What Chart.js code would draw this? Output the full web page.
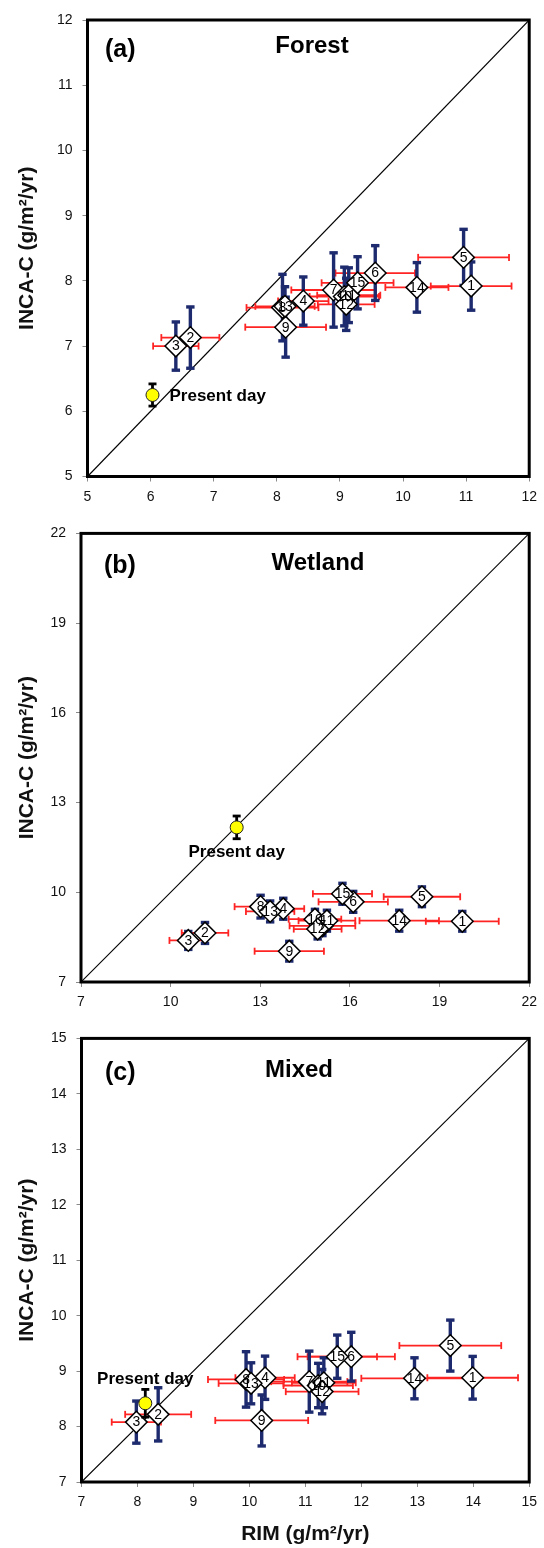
<!DOCTYPE html>
<html><head><meta charset="utf-8">
<script src="https://cdn.jsdelivr.net/npm/chart.js@4.4.1/dist/chart.umd.min.js"></script>
<style>
html,body{margin:0;padding:0;background:#fff;}
#wrap{position:relative;width:544px;height:1548px;background:#fff;overflow:hidden}
canvas{position:absolute;left:0}
</style></head><body>
<div id="wrap">
<canvas id="cA" width="544" height="515" style="top:0px;width:544px;height:515px"></canvas>
<canvas id="cB" width="544" height="505" style="top:515px;width:544px;height:505px"></canvas>
<canvas id="cC" width="544" height="528" style="top:1020px;width:544px;height:528px"></canvas>
</div>
<script>
const pointIds = ['1','2','3','4','5','6','7','8','9','10','11','12','13','14','15'];

// (a) Forest
const forestRIM      = [11.08, 6.63, 6.40, 8.42, 10.96, 9.56, 8.90, 8.09, 8.14, 9.07, 9.14, 9.10, 8.13, 10.22, 9.28];
const forestRIMErr   = [0.64, 0.46, 0.36, 0.40, 0.72, 0.63, 0.67, 0.57, 0.64, 0.55, 0.50, 0.45, 0.47, 0.50, 0.57];
const forestINCA     = [7.92, 7.13, 7.00, 7.69, 8.36, 8.12, 7.86, 7.59, 7.29, 7.76, 7.78, 7.64, 7.61, 7.90, 7.97];
const forestINCAErr  = [0.37, 0.47, 0.37, 0.37, 0.43, 0.42, 0.57, 0.51, 0.46, 0.45, 0.42, 0.40, 0.30, 0.38, 0.40];

// (b) Wetland
const wetlandRIM     = [19.76, 11.15, 10.59, 13.77, 18.41, 16.11, 15.08, 13.01, 13.97, 14.83, 15.23, 14.92, 13.33, 17.65, 15.75];
const wetlandRIMErr  = [1.22, 0.78, 0.63, 0.70, 1.28, 1.16, 1.10, 0.87, 1.16, 0.88, 0.95, 0.80, 0.81, 1.33, 0.99];
const wetlandINCA    = [9.03, 8.64, 8.39, 9.45, 9.85, 9.68, 8.88, 9.52, 8.03, 9.10, 9.05, 8.77, 9.36, 9.05, 9.95];
const wetlandINCAErr = [0.33, 0.35, 0.30, 0.35, 0.33, 0.35, 0.33, 0.38, 0.33, 0.33, 0.35, 0.33, 0.35, 0.35, 0.35];

// (c) Mixed
const mixedRIM     = [13.99, 8.37, 7.98, 10.28, 13.59, 11.82, 11.07, 9.94, 10.22, 11.23, 11.33, 11.30, 10.03, 12.95, 11.57];
const mixedRIMErr  = [0.81, 0.59, 0.44, 0.53, 0.91, 0.78, 0.68, 0.68, 0.83, 0.62, 0.57, 0.65, 0.58, 0.95, 0.71];
const mixedINCA    = [8.88, 8.22, 8.08, 8.88, 9.46, 9.26, 8.81, 8.85, 8.11, 8.74, 8.79, 8.63, 8.78, 8.87, 9.26];
const mixedINCAErr = [0.385, 0.48, 0.38, 0.39, 0.46, 0.44, 0.55, 0.50, 0.46, 0.40, 0.45, 0.40, 0.37, 0.37, 0.39];

// Present day (Forest, Wetland, Mixed)
const presentRIM     = [6.03, 12.21, 8.14];
const presentINCA    = [6.25, 12.17, 8.42];
const presentINCAErr = [0.17, 0.38, 0.25];
const presentLabel   = 'Present day';

// Axes (Forest, Wetland, Mixed)
const axisMin  = [5, 7, 7];
const axisMax  = [12, 22, 15];
const axisStep = [1, 3, 1];
const panelLetters = ['(a)', '(b)', '(c)'];
const panelTitles  = ['Forest', 'Wetland', 'Mixed'];
const yAxisTitle = 'INCA-C (g/m\u00B2/yr)';
const xAxisTitle = 'RIM (g/m\u00B2/yr)';

const FONT = "'Liberation Sans', Arial, Helvetica, sans-serif";
const RED = '#ff2424';
const NAVY = '#1d2a6e';
Chart.defaults.font.family = FONT;
Chart.defaults.color = '#111';

const layoutSpec = [
  {canvas:'cA', left:87.5, padTop:20, xh:38.5, letterX:105, letterDy:37, titleX:312, titleDy:33, lab:'right', showX:false},
  {canvas:'cB', left:81,   padTop:13, xh:38,   letterX:104, letterDy:40, titleX:318, titleDy:37, lab:'below', showX:false},
  {canvas:'cC', left:81.5, padTop:13, xh:66,   letterX:105, letterDy:42, titleX:299, titleDy:39, lab:'above', showX:true}
];

const panels = [
  {rim:forestRIM, rimErr:forestRIMErr, inca:forestINCA, incaErr:forestINCAErr},
  {rim:wetlandRIM, rimErr:wetlandRIMErr, inca:wetlandINCA, incaErr:wetlandINCAErr},
  {rim:mixedRIM, rimErr:mixedRIMErr, inca:mixedINCA, incaErr:mixedINCAErr}
];

function seg(ctx, x1, y1, x2, y2) { ctx.beginPath(); ctx.moveTo(x1, y1); ctx.lineTo(x2, y2); ctx.stroke(); }

function makePlugin(k) {
  const P = panels[k], L = layoutSpec[k];
  return {
    id: 'panel' + k,
    beforeDatasetDraw(chart, args) {
      const ctx = chart.ctx, xs = chart.scales.x, ys = chart.scales.y;
      if (args.index === 1) {
        ctx.save();
        ctx.lineCap = 'butt';
        ctx.strokeStyle = RED; ctx.lineWidth = 1.8;
        P.rim.forEach((v, i) => {
          const y = ys.getPixelForValue(P.inca[i]);
          const x1 = xs.getPixelForValue(v - P.rimErr[i]);
          const x2 = xs.getPixelForValue(v + P.rimErr[i]);
          seg(ctx, x1, y, x2, y);
          seg(ctx, x1, y - 3.5, x1, y + 3.5);
          seg(ctx, x2, y - 3.5, x2, y + 3.5);
        });
        ctx.strokeStyle = NAVY; ctx.lineWidth = 3.4;
        P.rim.forEach((v, i) => {
          const x = xs.getPixelForValue(v);
          const y1 = ys.getPixelForValue(P.inca[i] - P.incaErr[i]);
          const y2 = ys.getPixelForValue(P.inca[i] + P.incaErr[i]);
          seg(ctx, x, y1, x, y2);
          seg(ctx, x - 4.2, y1, x + 4.2, y1);
          seg(ctx, x - 4.2, y2, x + 4.2, y2);
        });
        ctx.restore();
      }
      if (args.index === 2) {
        const x = xs.getPixelForValue(presentRIM[k]);
        const y1 = ys.getPixelForValue(presentINCA[k] - presentINCAErr[k]);
        const y2 = ys.getPixelForValue(presentINCA[k] + presentINCAErr[k]);
        ctx.save();
        ctx.strokeStyle = '#000'; ctx.lineWidth = 2.8;
        seg(ctx, x, y1, x, y2);
        seg(ctx, x - 4, y1, x + 4, y1);
        seg(ctx, x - 4, y2, x + 4, y2);
        ctx.restore();
      }
    },
    afterDatasetsDraw(chart) {
      const ctx = chart.ctx, ca = chart.chartArea;
      const meta = chart.getDatasetMeta(1);
      ctx.save();
      ctx.fillStyle = '#000';
      ctx.font = '14px ' + FONT;
      ctx.textAlign = 'center'; ctx.textBaseline = 'middle';
      meta.data.forEach((pt, i) => { ctx.fillText(pointIds[i], pt.x, pt.y + 0.5); });
      // present day label
      const pm = chart.getDatasetMeta(2).data[0];
      ctx.font = 'bold 17px ' + FONT;
      if (L.lab === 'right') { ctx.textAlign = 'left'; ctx.fillText(presentLabel, pm.x + 17, pm.y + 1); }
      else if (L.lab === 'below') { ctx.textAlign = 'center'; ctx.fillText(presentLabel, pm.x, pm.y + 24.5); }
      else { ctx.textAlign = 'center'; ctx.fillText(presentLabel, pm.x, pm.y - 24); }
      // panel letter and title
      ctx.textBaseline = 'alphabetic';
      ctx.font = 'bold 25px ' + FONT;
      ctx.textAlign = 'left';
      ctx.fillText(panelLetters[k], L.letterX, ca.top + L.letterDy);
      ctx.font = 'bold 24px ' + FONT;
      ctx.textAlign = 'center';
      ctx.fillText(panelTitles[k], L.titleX, ca.top + L.titleDy);
      ctx.restore();
    },
    afterDraw(chart) {
      const ctx = chart.ctx, ca = chart.chartArea;
      ctx.save();
      ctx.strokeStyle = '#000'; ctx.lineWidth = 3;
      ctx.strokeRect(ca.left, ca.top, ca.right - ca.left, ca.bottom - ca.top);
      ctx.restore();
    }
  };
}

function makeChart(k) {
  const P = panels[k], L = layoutSpec[k];
  const pts = P.rim.map((x, i) => ({x: x, y: P.inca[i]}));
  const canvas = document.getElementById(L.canvas);
  const tickGrid = {display: true, drawOnChartArea: false, drawTicks: true, tickLength: 5, color: '#8a8a8a', lineWidth: 1};
  new Chart(canvas, {
    type: 'scatter',
    data: {
      datasets: [
        {data: [{x: axisMin[k], y: axisMin[k]}, {x: axisMax[k], y: axisMax[k]}], showLine: true,
         borderColor: '#000', borderWidth: 1.1, pointRadius: 0, pointHoverRadius: 0, order: 3},
        {data: pts, pointStyle: 'rectRot', pointRadius: 10.8, pointHoverRadius: 10.8,
         pointBackgroundColor: '#fff', pointBorderColor: '#000', pointBorderWidth: 1.5, order: 2, clip: false},
        {data: [{x: presentRIM[k], y: presentINCA[k]}], pointStyle: 'circle', pointRadius: 6.5, pointHoverRadius: 6.5,
         pointBackgroundColor: '#ffff00', pointBorderColor: '#222', pointBorderWidth: 1, order: 1, clip: false}
      ]
    },
    options: {
      responsive: false, animation: false, devicePixelRatio: 1,
      events: [],
      layout: {padding: {top: L.padTop, right: 12, bottom: 0, left: 0}},
      plugins: {legend: {display: false}, tooltip: {enabled: false}},
      scales: {
        x: {
          type: 'linear', min: axisMin[k], max: axisMax[k],
          ticks: {stepSize: axisStep[k], padding: 7, font: {size: 14}, color: '#111', maxRotation: 0, autoSkip: false},
          grid: tickGrid, border: {display: false},
          title: {display: L.showX, text: xAxisTitle, font: {size: 21, weight: 'bold'}, color: '#111', padding: {top: 0, bottom: 1.4}},
          afterFit: (s) => { s.height = L.xh; }
        },
        y: {
          type: 'linear', min: axisMin[k], max: axisMax[k],
          ticks: {stepSize: axisStep[k], padding: 10, font: {size: 14}, color: '#111'},
          grid: tickGrid, border: {display: false},
          title: {display: true, text: yAxisTitle, font: {size: 21, weight: 'bold'}, color: '#111', padding: {top: 14.4, bottom: 0}},
          afterFit: (s) => { s.width = L.left; }
        }
      }
    },
    plugins: [makePlugin(k)]
  });
}

[0, 1, 2].forEach(makeChart);
</script>
</body></html>
